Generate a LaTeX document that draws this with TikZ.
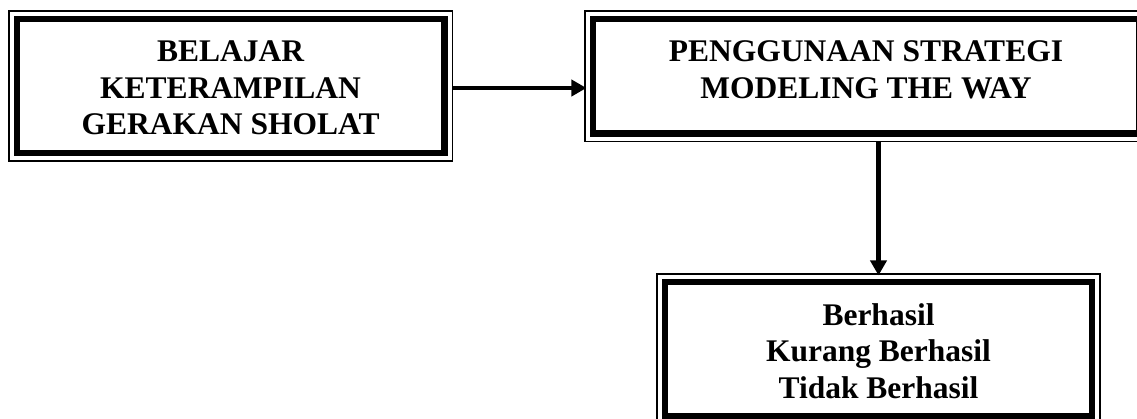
\documentclass[tikz,border=0pt]{standalone}
\usepackage{fontspec}
\setmainfont{Liberation Serif}
\usetikzlibrary{arrows.meta}
\begin{document}
\begin{tikzpicture}[x=1pt,y=-1pt,
  outerbox/.style={draw, line width=1.2pt, rectangle, inner sep=0pt},
  thickbox/.style={draw, line width=6.5pt, rectangle, inner sep=0pt},
  boxtext/.style={font=\fontsize{31.5}{36.7}\selectfont\bfseries, align=center, inner sep=0pt},
  arr/.style={line width=4.3pt, -{Triangle[length=15pt,width=16pt]}}]
\useasboundingbox (0,0) rectangle (1137,418);
\clip (0,0) rectangle (1137,418);
% box 1
\node[outerbox, minimum width=443.3pt, minimum height=150pt] (o1) at (230.6,86) {};
\node[thickbox, minimum width=427.3pt, minimum height=134pt] (t1) at (230.6,86) {};
\node[boxtext] (l1) at (230.6,88) {BELAJAR\\KETERAMPILAN\\GERAKAN SHOLAT};
% box 2
\node[outerbox, minimum width=562pt, minimum height=130.5pt] (o2) at (866,76.2) {};
\node[thickbox, minimum width=546pt, minimum height=114.5pt] (t2) at (866,76.2) {};
\node[boxtext] (l2) at (866,69.6) {PENGGUNAAN STRATEGI\\MODELING THE WAY};
% box 3
\node[outerbox, minimum width=443pt, minimum height=150pt] (o3) at (878.5,349) {};
\node[thickbox, minimum width=427pt, minimum height=134pt] (t3) at (878.5,349) {};
\node[boxtext] (l3) at (878.5,351) {Berhasil\\Kurang Berhasil\\Tidak Berhasil};
% connectors
\draw[arr, shorten >=3.3pt] ([yshift=-2pt]o1.east) -- ([yshift=-2pt]o1.east -| t2.west);
\draw[arr, shorten >=3.3pt] (t3.north |- o2.south) -- (t3.north);
\end{tikzpicture}
\end{document}
